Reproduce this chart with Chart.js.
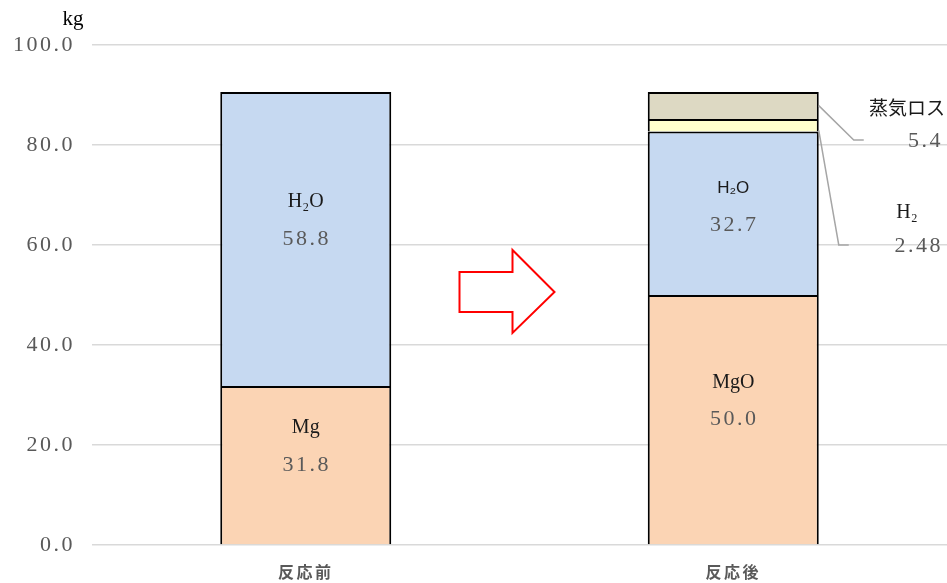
<!DOCTYPE html>
<html>
<head>
<meta charset="utf-8">
<script src="https://cdn.jsdelivr.net/npm/chart.js@4"></script>
<style>
  html, body { margin: 0; padding: 0; background: #fff; }
  #wrap { width: 947px; height: 583px; }
</style>
</head>
<body>
<div id="wrap"><canvas id="chart"></canvas></div>
<script>
const categories = ["反応前", "反応後"];
const baseNames = ["Mg", "MgO"];
const baseValues = [31.8, 50.0];
const waterNames = ["H₂O", "H₂O"];
const waterValues = [58.8, 32.7];
const hydrogenName = "H₂";
const hydrogenValues = [null, 2.48];
const steamName = "蒸気ロス";
const steamValues = [null, 5.4];
const yTicks = [0, 20, 40, 60, 80, 100];
const unitLabel = "kg";

const SERIF = "'Liberation Serif', 'DejaVu Serif', serif";
const SANS = "'Liberation Sans', Arial, sans-serif";
const CJK = "'Noto Sans CJK JP', sans-serif";

// wider spacing for axis text (mimics the half-width mincho look)
const axisSpacing = {
  id: "axisSpacing",
  beforeDraw(chart) { chart.ctx.letterSpacing = "2.5px"; },
  beforeDatasetsDraw(chart) { chart.ctx.letterSpacing = "0px"; }
};

// labels drawn inside the bars (name above, value in middle)
const insideLabels = {
  id: "insideLabels",
  afterDatasetsDraw(chart) {
    const ctx = chart.ctx;
    const names = [baseNames, waterNames];
    ctx.save();
    ctx.textAlign = "center";
    ctx.textBaseline = "middle";
    [0, 1].forEach(di => {
      const meta = chart.getDatasetMeta(di);
      meta.data.forEach((bar, i) => {
        const v = chart.data.datasets[di].data[i];
        if (v == null) return;
        let cy = (bar.y + bar.base) / 2;
        if (di === 1 && i === 1) cy += 12;
        const sansName = di === 1 && i === 1;
        ctx.letterSpacing = "0px";
        ctx.fillStyle = "#1a1a1a";
        ctx.font = sansName ? "17px " + SANS : "20px " + SERIF;
        ctx.fillText(names[di][i], bar.x, cy - 37);
        ctx.letterSpacing = "2.5px";
        ctx.fillStyle = "#595959";
        ctx.font = "22px " + SERIF;
        ctx.fillText(v.toFixed(1), bar.x + 1, cy);
      });
    });
    ctx.restore();
  }
};

// labels outside to the right with leader lines
const sideLabels = {
  id: "sideLabels",
  afterDatasetsDraw(chart) {
    const ctx = chart.ctx;
    const ys = chart.scales.y;
    const right = chart.chartArea.right;
    const items = [
      { di: 3, name: steamName, fmt: v => v.toFixed(1), at: 81, startFrac: 0.5, bend: 35, nameFont: "19px " + CJK },
      { di: 2, name: hydrogenName, fmt: v => v.toFixed(2), at: 60, startFrac: 0.1, bend: 20, nameFont: "20px " + SERIF }
    ];
    ctx.save();
    items.forEach(it => {
      const meta = chart.getDatasetMeta(it.di);
      meta.data.forEach((bar, i) => {
        const v = chart.data.datasets[it.di].data[i];
        if (v == null) return;
        const x0 = bar.x + bar.width / 2;
        const y0 = bar.y + (bar.base - bar.y) * (1 - it.startFrac);
        const y1 = ys.getPixelForValue(it.at);
        ctx.strokeStyle = "#a6a6a6";
        ctx.lineWidth = 1.5;
        ctx.beginPath();
        ctx.moveTo(x0, y0);
        ctx.lineTo(x0 + it.bend, y1);
        ctx.lineTo(x0 + it.bend + 10, y1);
        ctx.stroke();
        ctx.textBaseline = "middle";
        ctx.textAlign = "right";
        ctx.fillStyle = "#595959";
        ctx.letterSpacing = "2.5px";
        ctx.font = "22px " + SERIF;
        ctx.fillText(it.fmt(v), right - 4, y1 + 1);
        ctx.letterSpacing = "0px";
        ctx.textAlign = "center";
        ctx.fillStyle = "#1a1a1a";
        ctx.font = it.nameFont;
        ctx.fillText(it.name, right - 40, y1 - 32);
      });
    });
    ctx.restore();
  }
};

// unit label and the red outline arrow between bars
const extras = {
  id: "extras",
  afterDraw(chart) {
    const ctx = chart.ctx;
    const xs = chart.scales.x, ys = chart.scales.y;
    ctx.save();
    ctx.letterSpacing = "0px";
    ctx.fillStyle = "#000";
    ctx.font = "21px " + SERIF;
    ctx.textAlign = "center";
    ctx.textBaseline = "middle";
    ctx.fillText(unitLabel, chart.chartArea.left - 19, chart.chartArea.top - 26);

    const mx = (xs.getPixelForValue(0) + xs.getPixelForValue(1)) / 2;
    const my = ys.getPixelForValue(50.6);
    ctx.strokeStyle = "#ff0000";
    ctx.lineWidth = 2;
    ctx.beginPath();
    ctx.moveTo(mx - 60, my - 20);
    ctx.lineTo(mx - 7, my - 20);
    ctx.lineTo(mx - 7, my - 42);
    ctx.lineTo(mx + 35, my);
    ctx.lineTo(mx - 7, my + 41);
    ctx.lineTo(mx - 7, my + 20);
    ctx.lineTo(mx - 60, my + 20);
    ctx.closePath();
    ctx.stroke();
    ctx.restore();
  }
};

// only the top edge of each segment gets a line, so shared edges stay 2px
const barStyle = {
  borderColor: "#000000",
  borderWidth: { top: 2, left: 2, right: 2, bottom: 0 },
  borderSkipped: false,
  barPercentage: 0.4,
  categoryPercentage: 1.0
};

new Chart(document.getElementById("chart"), {
  type: "bar",
  data: {
    labels: categories,
    datasets: [
      { label: "Mg / MgO", data: baseValues, backgroundColor: "#FBD4B4", ...barStyle },
      { label: "H₂O", data: waterValues, backgroundColor: "#C6D9F1", ...barStyle },
      { label: hydrogenName, data: hydrogenValues, backgroundColor: "#FFFFCC", ...barStyle },
      { label: steamName, data: steamValues, backgroundColor: "#DDD9C3", ...barStyle }
    ]
  },
  options: {
    responsive: true,
    maintainAspectRatio: false,
    animation: false,
    layout: { padding: { top: 45, right: 0, left: 0, bottom: 0 } },
    plugins: {
      legend: { display: false },
      tooltip: { enabled: false }
    },
    scales: {
      x: {
        stacked: true,
        grid: { display: false },
        border: { display: false },
        ticks: {
          color: "#595959",
          font: { family: CJK, size: 16, weight: "bold" },
          padding: 9
        },
        afterFit: s => { s.height = 38; }
      },
      y: {
        stacked: true,
        min: yTicks[0],
        max: yTicks[yTicks.length - 1],
        afterBuildTicks: s => { s.ticks = yTicks.map(v => ({ value: v })); },
        grid: { color: "#d9d9d9", lineWidth: 1.5, drawTicks: false },
        border: { display: false },
        ticks: {
          color: "#595959",
          font: { family: SERIF, size: 22 },
          padding: 17,
          callback: v => v.toFixed(1)
        },
        afterFit: s => { s.width = 92; }
      }
    }
  },
  plugins: [axisSpacing, insideLabels, sideLabels, extras]
});
</script>
</body>
</html>
